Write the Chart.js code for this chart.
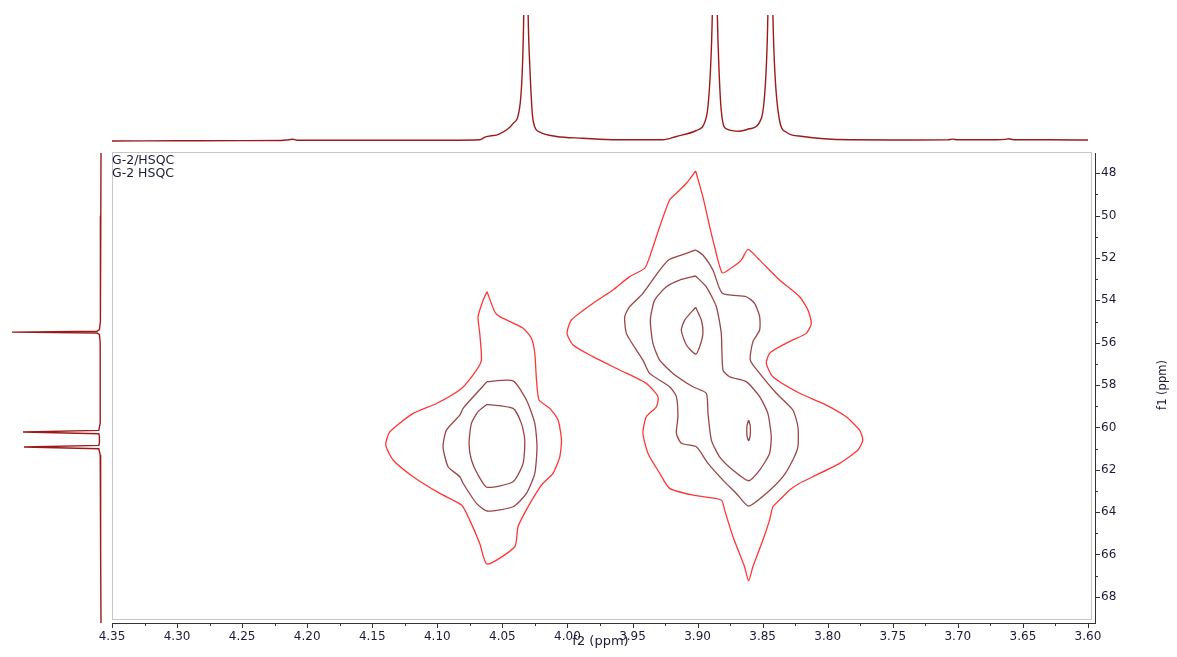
<!DOCTYPE html>
<html><head><meta charset="utf-8">
<script src="https://cdn.jsdelivr.net/npm/chart.js@4.4.1/dist/chart.umd.min.js"></script>
<style>
html,body{margin:0;padding:0;background:#fff;overflow:hidden;}
#wrap{position:relative;width:1177px;height:657px;}
canvas{position:absolute;left:0;top:0;}
</style></head><body>
<div id="wrap">
<canvas id="main" width="1177" height="657"></canvas>
<canvas id="top" width="1177" height="145"></canvas>
<canvas id="side" width="112" height="657"></canvas>
</div>
<script>
// ---------- data ----------
const f2Range = [3.5946, 4.35];          // ppm (displayed reversed)
const f1Range = [47.04, 69.24];          // ppm (displayed reversed)
const f2MajorTicks = [4.35,4.30,4.25,4.20,4.15,4.10,4.05,4.00,3.95,3.90,3.85,3.80,3.75,3.70,3.65,3.60];
const f2MinorTicks = [4.325,4.275,4.225,4.175,4.125,4.075,4.025,3.975,3.925,3.875,3.825,3.775,3.725,3.675,3.625];
const f1MajorTicks = [48,50,52,54,56,58,60,62,64,66,68];
const f1MinorTicks = [49,51,53,55,57,59,61,63,65,67];
const plotLabels = ['G-2/HSQC','G-2 HSQC'];
const axisTitles = ['f2 (ppm)','f1 (ppm)'];

// contours: [f2, f1]
const leftOuter = [[4.0618,53.59],[4.0559,54.54],[4.0520,54.77],[4.0341,55.32],[4.0277,55.79],[4.0251,56.50],[4.0238,57.76],[4.0218,58.71],[4.0136,59.10],[4.0072,59.65],[4.0046,60.60],[4.0059,61.39],[4.0111,62.17],[4.0188,62.64],[4.0226,62.96],[4.0303,63.75],[4.0380,64.69],[4.0405,65.64],[4.0618,66.46],[4.0674,65.48],[4.0751,64.38],[4.0814,63.67],[4.0981,63.12],[4.1186,62.33],[4.1340,61.54],[4.1396,60.84],[4.1365,60.21],[4.1186,59.34],[4.1006,58.87],[4.0814,58.16],[4.0699,57.29],[4.0661,56.82],[4.0674,55.56],[4.0687,54.77],[4.0648,53.99],[4.0618,53.59]];
const leftMiddle = [[4.0618,57.84],[4.0418,57.80],[4.0315,58.71],[4.0251,59.81],[4.0234,60.92],[4.0251,62.17],[4.0315,63.12],[4.0418,63.75],[4.0618,63.95],[4.0699,63.59],[4.0802,62.64],[4.0827,62.33],[4.0917,61.86],[4.0956,60.92],[4.0930,60.13],[4.0827,59.42],[4.0802,59.10],[4.0699,58.39],[4.0618,57.84]];
const leftInner = [[4.0618,58.91],[4.0418,59.10],[4.0354,59.81],[4.0328,60.60],[4.0341,61.70],[4.0418,62.57],[4.0618,62.83],[4.0687,62.25],[4.0738,61.54],[4.0756,60.75],[4.0738,59.81],[4.0687,59.26],[4.0618,58.91]];
const rightOuter = [[3.9015,47.89],[3.8959,49.11],[3.8907,50.52],[3.8869,51.47],[3.8810,52.70],[3.8728,52.41],[3.8664,52.10],[3.8613,51.59],[3.8523,52.10],[3.8370,53.04],[3.8216,53.83],[3.8152,54.46],[3.8126,55.09],[3.8165,55.56],[3.8268,55.87],[3.8370,56.19],[3.8447,56.50],[3.8472,56.98],[3.8421,57.61],[3.8216,58.39],[3.8037,58.87],[3.7858,59.50],[3.7755,60.13],[3.7730,60.60],[3.7768,61.07],[3.7909,61.70],[3.8114,62.33],[3.8216,62.64],[3.8293,62.96],[3.8370,63.43],[3.8421,63.75],[3.8447,64.38],[3.8498,65.32],[3.8575,66.58],[3.8608,67.25],[3.8639,66.58],[3.8728,65.17],[3.8792,63.91],[3.8818,63.43],[3.9036,63.20],[3.9215,62.88],[3.9291,62.17],[3.9381,61.23],[3.9420,60.28],[3.9394,59.50],[3.9317,59.03],[3.9304,58.55],[3.9394,57.92],[3.9599,57.29],[3.9804,56.66],[3.9957,56.11],[4.0003,55.56],[3.9970,54.93],[3.9804,54.14],[3.9650,53.51],[3.9522,52.88],[3.9407,52.49],[3.9368,51.94],[3.9291,50.52],[3.9215,49.26],[3.9163,48.94],[3.9086,48.47],[3.9015,47.89]];
const rightSecond = [[3.9015,51.62],[3.8959,51.86],[3.8882,52.57],[3.8810,53.67],[3.8626,53.83],[3.8562,54.14],[3.8523,54.77],[3.8523,55.40],[3.8575,55.96],[3.8595,56.82],[3.8523,57.45],[3.8395,58.39],[3.8268,59.18],[3.8229,59.97],[3.8229,60.92],[3.8268,61.54],[3.8344,62.33],[3.8472,63.12],[3.8608,63.72],[3.8702,63.12],[3.8805,62.49],[3.8920,61.70],[3.9010,60.92],[3.9125,60.75],[3.9163,60.28],[3.9151,59.50],[3.9163,58.55],[3.9215,58.08],[3.9368,57.45],[3.9420,56.82],[3.9470,56.35],[3.9547,55.56],[3.9560,54.77],[3.9522,54.30],[3.9420,53.67],[3.9291,52.57],[3.9215,52.06],[3.9086,51.78],[3.9015,51.62]];
const rightThird = [[3.9015,52.85],[3.8933,53.36],[3.8856,54.30],[3.8818,55.56],[3.8805,57.29],[3.8754,57.61],[3.8626,57.84],[3.8523,58.55],[3.8460,59.34],[3.8434,60.44],[3.8447,61.23],[3.8523,62.02],[3.8608,62.52],[3.8728,62.02],[3.8831,61.39],[3.8894,60.60],[3.8920,59.34],[3.8933,58.39],[3.9036,58.08],[3.9189,57.45],[3.9291,56.82],[3.9343,56.03],[3.9363,54.93],[3.9330,53.99],[3.9240,53.36],[3.9138,53.04],[3.9015,52.85]];
const rightInnerTop = [[3.9015,54.33],[3.8971,54.93],[3.8959,55.56],[3.8984,56.19],[3.9015,56.54],[3.9086,56.11],[3.9125,55.40],[3.9099,54.93],[3.9015,54.33]];
const rightInnerBottom = [[3.8608,59.65],[3.8596,59.90],[3.8594,60.14],[3.8596,60.40],[3.8608,60.63],[3.8620,60.40],[3.8622,60.14],[3.8620,59.90],[3.8608,59.65]];

// 1D projections
const topSpectrum = [[4.35,-1.0],[4.30,-0.8],[4.25,-0.6],[4.22,-0.5],[4.214,0.3],[4.211,0.7],[4.207,-0.3],[4.15,-0.3],[4.10,-0.2],[4.0904,-0.2],[4.0673,0.2],[4.0635,2.8],[4.052,6.2],[4.042,16.2],[4.0367,32.8],[4.0346,72.8],[4.0336,124.5],[4.0320,300],[4.0302,124.5],[4.0289,72.8],[4.0264,19.5],[4.0212,7.8],[4.0084,3.5],[3.9882,1.8],[3.9621,0.2],[3.9268,0.2],[3.9163,3.5],[3.9010,9.5],[3.8933,22.8],[3.8900,72.8],[3.8887,124.5],[3.8867,300],[3.8848,124.5],[3.8836,72.8],[3.8818,29.5],[3.8779,11.2],[3.8677,8.8],[3.8601,11.2],[3.8511,21.2],[3.8472,72.8],[3.8460,124.5],[3.8442,300],[3.8421,124.5],[3.8408,72.8],[3.8370,19.5],[3.8318,7.8],[3.8191,3.5],[3.7833,0.2],[3.75,0],[3.708,0.1],[3.704,0.9],[3.700,0.2],[3.67,0.3],[3.664,0.6],[3.661,1.2],[3.657,0.3],[3.63,0.2],[3.60,0]];
const sideSpectrum = [[0,47.04],[0.2,50],[0.4,53],[0.8,55.0],[1.6,55.38],[4,55.46],[89,55.50],[4,55.54],[1.6,55.62],[0.8,56.0],[0.6,58],[1.0,59.8],[2.2,60.14],[78,60.22],[2.2,60.30],[1.6,60.45],[1.6,60.72],[2.2,60.85],[77,60.93],[2.2,61.01],[0.8,61.3],[0.5,63],[0.2,66],[0,69.24]];

// ---------- rendering ----------
Chart.defaults.font.family = "'DejaVu Sans', Verdana, sans-serif";
Chart.defaults.animation = false;
const FAM = "'DejaVu Sans', Verdana, sans-serif";
const TXT = '#1c1c38';
const OUTER = '#ff3636';
const INNER = '#9a4646';
const SPEC = '#9e1a1a';

const toXY = arr => arr.map(p => ({x: p[0], y: p[1]}));
const contour = (arr, color) => ({data: toXY(arr), showLine: true, borderColor: color, borderWidth: 1.3, pointRadius: 0, tension: 0.2, fill: false});
const near = (list, v) => list.some(t => Math.abs(t - v) < 1e-6);

const decorPlugin = {
  id: 'decor',
  beforeDatasetsDraw(chart) {
    const {ctx, chartArea: a} = chart;
    ctx.save();
    ctx.strokeStyle = '#c6c6c6';
    ctx.lineWidth = 1;
    ctx.strokeRect(a.left + 0.5, a.top - 0.5, a.right - a.left - 4, a.bottom - a.top - 3);
    ctx.restore();
  },
  afterDraw(chart) {
    const {ctx, chartArea: a, scales: {x, y}} = chart;
    ctx.save();
    ctx.strokeStyle = '#333';
    ctx.lineWidth = 1;
    ctx.beginPath();
    f2MajorTicks.forEach(v => { const p = Math.round(x.getPixelForValue(v)) + 0.5; ctx.moveTo(p, a.bottom); ctx.lineTo(p, a.bottom + 5); });
    f2MinorTicks.forEach(v => { const p = Math.round(x.getPixelForValue(v)) + 0.5; ctx.moveTo(p, a.bottom); ctx.lineTo(p, a.bottom + 3); });
    f1MajorTicks.forEach(v => { const p = Math.round(y.getPixelForValue(v)) + 0.5; ctx.moveTo(a.right, p); ctx.lineTo(a.right + 5, p); });
    f1MinorTicks.forEach(v => { const p = Math.round(y.getPixelForValue(v)) + 0.5; ctx.moveTo(a.right, p); ctx.lineTo(a.right + 3, p); });
    ctx.stroke();
    ctx.fillStyle = TXT;
    ctx.font = "12.5px " + FAM;
    ctx.textAlign = 'left';
    ctx.textBaseline = 'alphabetic';
    ctx.fillText(plotLabels[0], a.left, a.top + 11);
    ctx.fillText(plotLabels[1], a.left, a.top + 23.5);
    ctx.font = "13px " + FAM;
    ctx.textAlign = 'center';
    ctx.fillText(axisTitles[0], (a.left + a.right) / 2 - 3, a.bottom + 21.5);
    ctx.font = "11.5px " + FAM;
    ctx.translate(a.right + 68, (a.top + a.bottom) / 2 - 3);
    ctx.rotate(-Math.PI / 2);
    ctx.textBaseline = 'middle';
    ctx.fillText(axisTitles[1], 0, 0);
    ctx.restore();
  }
};

new Chart(document.getElementById('main'), {
  type: 'scatter',
  data: {datasets: [
    contour(leftOuter, OUTER), contour(leftMiddle, INNER), contour(leftInner, INNER),
    contour(rightOuter, OUTER), contour(rightSecond, INNER), contour(rightThird, INNER),
    contour(rightInnerTop, INNER), contour(rightInnerBottom, INNER)
  ]},
  options: {
    responsive: false, devicePixelRatio: 1, animation: false,
    layout: {padding: {left: 112, top: 153, right: 0, bottom: 0}},
    plugins: {legend: {display: false}, tooltip: {enabled: false}},
    scales: {
      x: {
        type: 'linear', reverse: true, min: f2Range[0], max: f2Range[1], position: 'bottom',
        grid: {display: false, drawTicks: false},
        border: {display: true, color: '#333', width: 1},
        ticks: {autoSkip: false, maxRotation: 0, padding: 7, color: TXT, font: {size: 12}, callback: v => near(f2MajorTicks, v) ? v.toFixed(2) : ''},
        afterBuildTicks: s => { s.ticks = f2MajorTicks.map(v => ({value: v})); },
        afterFit: s => { s.height = 34; }
      },
      y: {
        type: 'linear', reverse: true, min: f1Range[0], max: f1Range[1], position: 'right',
        grid: {display: false, drawTicks: false},
        border: {display: true, color: '#333', width: 1},
        ticks: {autoSkip: false, padding: 6, color: TXT, font: {size: 12}, callback: v => near(f1MajorTicks, v) ? String(v) : ''},
        afterBuildTicks: s => { s.ticks = f1MajorTicks.map(v => ({value: v})); },
        afterFit: s => { s.width = 82; }
      }
    }
  },
  plugins: [decorPlugin]
});

new Chart(document.getElementById('top'), {
  type: 'scatter',
  data: {datasets: [{data: toXY(topSpectrum), showLine: true, borderColor: SPEC, borderWidth: 1.4, pointRadius: 0, cubicInterpolationMode: 'monotone', fill: false}]},
  options: {
    responsive: false, devicePixelRatio: 1, animation: false,
    layout: {padding: {left: 112, right: 82, top: 15, bottom: 0}},
    plugins: {legend: {display: false}, tooltip: {enabled: false}},
    scales: {
      x: {type: 'linear', reverse: true, min: f2Range[0], max: f2Range[1], display: false},
      y: {type: 'linear', min: -5, max: 125, display: false}
    }
  }
});

new Chart(document.getElementById('side'), {
  type: 'scatter',
  data: {datasets: [{data: toXY(sideSpectrum), showLine: true, borderColor: SPEC, borderWidth: 1.4, pointRadius: 0, tension: 0, fill: false}]},
  options: {
    responsive: false, devicePixelRatio: 1, animation: false,
    layout: {padding: {left: 0, right: 0, top: 153, bottom: 34}},
    plugins: {legend: {display: false}, tooltip: {enabled: false}},
    scales: {
      x: {type: 'linear', reverse: true, min: -11, max: 101, display: false},
      y: {type: 'linear', reverse: true, min: f1Range[0], max: f1Range[1], display: false}
    }
  }
});
</script>
</body></html>
